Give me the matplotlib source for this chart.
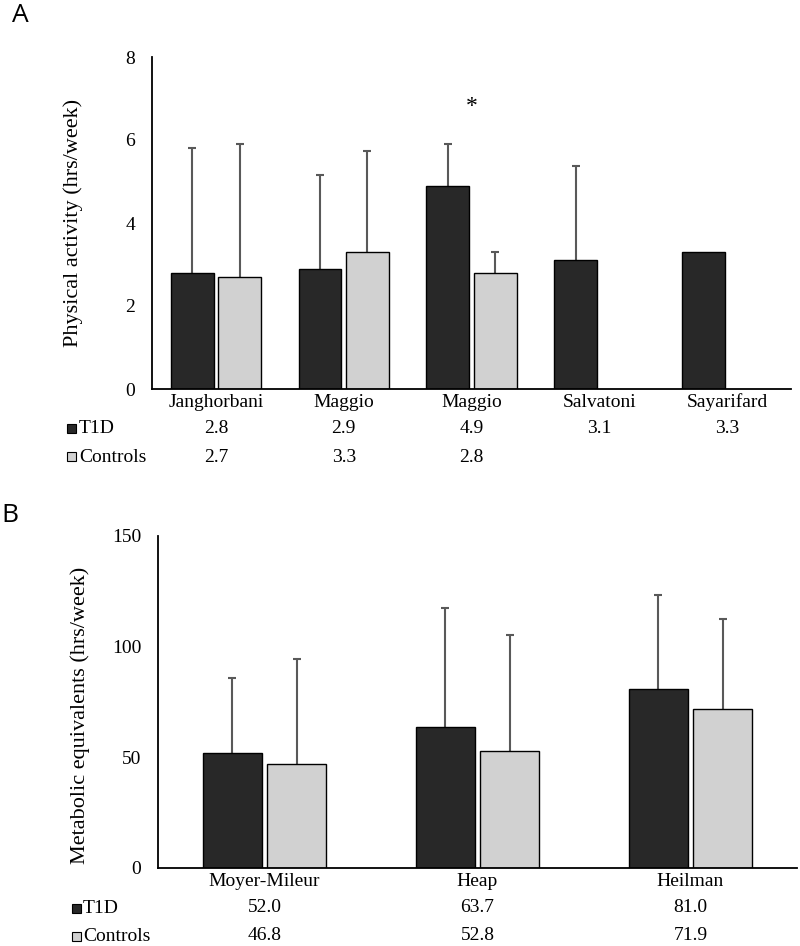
import matplotlib
matplotlib.use("Agg")
import matplotlib.pyplot as plt
from matplotlib.patches import Rectangle
import numpy as np

# ---------------- data ----------------
cats_a = ["Janghorbani", "Maggio", "Maggio", "Salvatoni", "Sayarifard"]
t1d_a = [2.8, 2.9, 4.9, 3.1, 3.3]
ctrl_a = [2.7, 3.3, 2.8, None, None]
t1d_a_err = [3.0, 2.26, 1.0, 2.27, None]
ctrl_a_err = [3.2, 2.44, 0.5, None, None]

cats_b = ["Moyer-Mileur", "Heap", "Heilman"]
t1d_b = [52.0, 63.7, 81.0]
ctrl_b = [46.8, 52.8, 71.9]
t1d_b_err = [33.9, 53.8, 42.4]
ctrl_b_err = [47.6, 52.5, 40.6]

sig_index = 2  # Maggio (second) significant
series_names = ["T1D", "Controls"]

# ---------------- style ----------------
SERIF = ["Liberation Serif", "DejaVu Serif"]
FS = 14
FS_YLAB = 16
C_T1D = "#282828"
C_CTRL = "#d1d1d1"
C_ERR = "#595959"

W, H = 800, 946
fig = plt.figure(figsize=(W / 100, H / 100), dpi=100)


def fx(px):
    return px / W


def fy(py):
    return 1 - py / H


def err(ax, xpos, val, e):
    _, caps, _ = ax.errorbar(xpos, val, yerr=[[0], [e]], fmt="none",
                             ecolor=C_ERR, elinewidth=1.5, capsize=3,
                             capthick=1.5, zorder=1)
    if len(caps) > 1:
        caps[0].set_visible(False)


def panel(ax, cats, t1d, ctrl, t1d_err, ctrl_err, ymax, yticks, ylabel,
          bw, off, row_y, ylab_xy, fmt, leg_sq, leg_tx, leg_rows):
    n = len(cats)
    x = np.arange(n)
    for i in range(n):
        if t1d[i] is not None:
            ax.bar(x[i] - off, t1d[i], bw, color=C_T1D, edgecolor="black",
                   linewidth=1.0, zorder=2)
            if t1d_err[i] is not None:
                err(ax, x[i] - off, t1d[i], t1d_err[i])
        if ctrl[i] is not None:
            ax.bar(x[i] + off, ctrl[i], bw, color=C_CTRL, edgecolor="black",
                   linewidth=1.0, zorder=2)
            if ctrl_err[i] is not None:
                err(ax, x[i] + off, ctrl[i], ctrl_err[i])
    ax.set_xlim(-0.5, n - 0.5)
    ax.set_ylim(0, ymax)
    ax.set_yticks(yticks)
    ax.set_yticklabels([str(t) for t in yticks], fontsize=FS, family=SERIF)
    ax.tick_params(axis="y", length=0, pad=12)
    ax.set_xticks([])
    for s in ["top", "right"]:
        ax.spines[s].set_visible(False)
    ax.spines["left"].set_linewidth(1.3)
    ax.spines["bottom"].set_linewidth(1.3)
    ax.set_ylabel(ylabel, fontsize=FS_YLAB, family=SERIF)
    ax.yaxis.set_label_coords(*ylab_xy)

    tr = ax.get_xaxis_transform()
    for i in range(n):
        ax.text(x[i], row_y[0], cats[i], transform=tr, ha="center",
                va="center", fontsize=FS, family=SERIF, clip_on=False)
        if t1d[i] is not None:
            ax.text(x[i], row_y[1], fmt.format(t1d[i]), transform=tr,
                    ha="center", va="center", fontsize=FS, family=SERIF)
        if ctrl[i] is not None:
            ax.text(x[i], row_y[2], fmt.format(ctrl[i]), transform=tr,
                    ha="center", va="center", fontsize=FS, family=SERIF)
    # legend rows
    for (ypx, col, name) in zip(leg_rows, [C_T1D, C_CTRL], series_names):
        sq = Rectangle((fx(leg_sq[0]), fy(ypx + 4.5)), fx(leg_sq[1]),
                       leg_sq[1] / H, transform=fig.transFigure,
                       facecolor=col, edgecolor="black", linewidth=0.8)
        fig.add_artist(sq)
        fig.text(fx(leg_tx), fy(ypx), name, ha="left", va="center",
                 fontsize=FS, family=SERIF)


# Panel A
axA = fig.add_axes([fx(152), fy(389), fx(791 - 152), (389 - 57) / H])
panel(axA, cats_a, t1d_a, ctrl_a, t1d_a_err, ctrl_a_err, 8, [0, 2, 4, 6, 8],
      "Physical activity (hrs/week)", 0.335, 0.185,
      [-0.04, -0.118, -0.205], (-0.108, 0.5), "{:.1f}", (67, 9), 79, [428, 457])
axA.text(sig_index, 6.8, "*", ha="center", va="center", fontsize=17,
         family=SERIF)

# Panel B
axB = fig.add_axes([fx(158), fy(868), fx(797 - 158), (868 - 536) / H])
panel(axB, cats_b, t1d_b, ctrl_b, t1d_b_err, ctrl_b_err, 150, [0, 50, 100, 150],
      "Metabolic equivalents (hrs/week)", 0.277, 0.152,
      [-0.042, -0.12, -0.202], (-0.106, 0.46), "{:.1f}", (72, 9), 83, [908, 936])

fig.text(fx(20), fy(16), "A", ha="center", va="center", fontsize=19,
         family=["Open Sans", "DejaVu Sans"])
fig.text(fx(10), fy(516), "B", ha="center", va="center", fontsize=19,
         family=["Open Sans", "DejaVu Sans"])

fig.savefig("out.png", dpi=100)
